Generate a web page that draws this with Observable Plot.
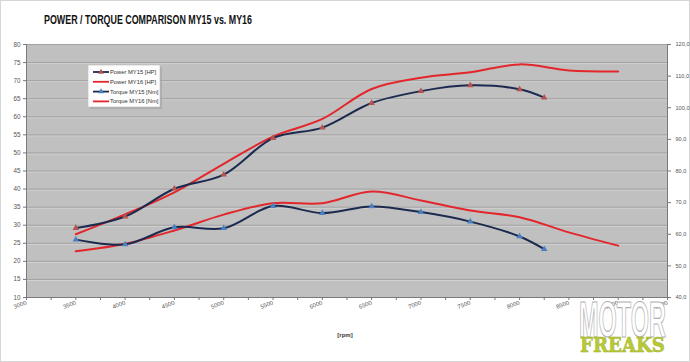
<!DOCTYPE html>
<html>
<head>
<meta charset="utf-8">
<script src="https://cdn.jsdelivr.net/npm/d3@7"></script>
<script src="https://cdn.jsdelivr.net/npm/@observablehq/plot@0.6"></script>
<style>
  html, body { margin: 0; padding: 0; background: #fff; }
  #chart { width: 690px; height: 362px; position: relative; }
  svg { font-family: "Liberation Sans", Arial, sans-serif; }
</style>
</head>
<body>
<div id="chart"></div>
<script>
// ---- data ----
const title = "POWER / TORQUE COMPARISON MY15 vs. MY16";
const xLabel = "[rpm]";
const seriesNames = ["Power MY15 [HP]", "Power MY16 [HP]", "Torque MY15 [Nm]", "Torque MY16 [Nm]"];

const rpmMY15 = [3500, 4000, 4500, 5000, 5500, 6000, 6500, 7000, 7500, 8000, 8250];
const powerMY15 = [29.2, 32.4, 40.1, 44.0, 54.1, 57.0, 63.8, 67.1, 68.7, 67.6, 65.3];
const torqueMY15 = [58.3, 56.8, 62.2, 61.9, 68.9, 66.7, 68.8, 67.0, 64.0, 59.3, 55.3];

const rpmMY16 = [3500, 4000, 4500, 5000, 5500, 6000, 6500, 7000, 7500, 8000, 8500, 9000];
const powerMY16 = [27.5, 33.0, 39.1, 47.0, 54.5, 59.4, 67.7, 70.8, 72.3, 74.5, 72.8, 72.5];
const torqueMY16 = [54.6, 57.0, 61.2, 66.2, 69.8, 69.8, 73.5, 70.7, 67.5, 65.4, 60.6, 56.4];

const hpTicks = [10, 15, 20, 25, 30, 35, 40, 45, 50, 55, 60, 65, 70, 75, 80];
const nmTicks = [40, 50, 60, 70, 80, 90, 100, 110, 120];
const rpmTicks = [3000, 3500, 4000, 4500, 5000, 5500, 6000, 6500, 7000, 7500, 8000, 8500, 9000, 9500];
const rpmMinorTicks = d3.range(3000, 9501, 250);

// ---- torque (right axis 40..120) mapped onto the HP axis (10..80)
const hpDomain = [10, 80];
const nmDomain = [40, 120];
const nmToHp = nm => hpDomain[0] + (nm - nmDomain[0]) * (hpDomain[1] - hpDomain[0]) / (nmDomain[1] - nmDomain[0]);
const hpToNm = hp => nmDomain[0] + (hp - hpDomain[0]) * (nmDomain[1] - nmDomain[0]) / (hpDomain[1] - hpDomain[0]);

const p15 = rpmMY15.map((r, i) => ({rpm: r, v: powerMY15[i]}));
const p16 = rpmMY16.map((r, i) => ({rpm: r, v: powerMY16[i]}));
const t15 = rpmMY15.map((r, i) => ({rpm: r, v: nmToHp(torqueMY15[i])}));
const t16 = rpmMY16.map((r, i) => ({rpm: r, v: nmToHp(torqueMY16[i])}));

const navy = "#1b2a4e";
const red = "#e3262b";
const triRed = "#b45350";
const triBlue = "#4a7fc1";
const tickColor = "#555555";

const chart = Plot.plot({
  width: 690,
  height: 362,
  marginLeft: 26,
  marginRight: 23,
  marginTop: 44,
  marginBottom: 65,
  style: {background: "transparent", color: tickColor, fontFamily: "'Liberation Sans', Arial, sans-serif"},
  x: {domain: [3000, 9500]},
  y: {domain: hpDomain},
  marks: [
    Plot.frame({fill: "#c0c0c0", stroke: null}),
    Plot.ruleY(hpTicks.slice(1, -1), {stroke: "#d4d4d4", dy: 1}),
    Plot.ruleY(hpTicks.slice(1), {stroke: "#a2a2a2"}),
    Plot.ruleX([3000], {stroke: "#7a7a7a"}),
    Plot.ruleX([9500], {stroke: "#7a7a7a"}),
    Plot.ruleY([10], {stroke: "#7a7a7a"}),
    Plot.axisY({anchor: "left", ticks: hpTicks, tickSize: 3, tickPadding: 3, fontSize: 6.3, fill: tickColor, stroke: "#777", label: null}),
    Plot.axisY({anchor: "right", ticks: nmTicks.map(nmToHp), tickSize: 3, tickPadding: 5, fontSize: 5.6, fill: tickColor, stroke: "#777", label: null,
      tickFormat: d => (Math.round(hpToNm(d) * 10) / 10).toFixed(1).replace(".", ",")}),
    Plot.axisX({ticks: rpmMinorTicks, tickSize: 3, tickPadding: 2, tickRotate: -20, fontSize: 6, fill: tickColor, stroke: "#777", label: null,
      tickFormat: d => rpmTicks.includes(d) ? String(d) : ""}),
    Plot.line(t16, {x: "rpm", y: "v", stroke: red, strokeWidth: 2, curve: "catmull-rom"}),
    Plot.line(t15, {x: "rpm", y: "v", stroke: navy, strokeWidth: 2, curve: "catmull-rom"}),
    Plot.dot(t15, {x: "rpm", y: "v", symbol: "triangle", r: 2.4, fill: triBlue, stroke: null}),
    Plot.line(p16, {x: "rpm", y: "v", stroke: red, strokeWidth: 2, curve: "catmull-rom"}),
    Plot.line(p15, {x: "rpm", y: "v", stroke: navy, strokeWidth: 2, curve: "catmull-rom"}),
    Plot.dot(p15, {x: "rpm", y: "v", symbol: "triangle", r: 2.4, fill: triRed, stroke: null})
  ]
});

document.getElementById("chart").appendChild(chart);
const svg = d3.select(chart);

// outer light border
svg.insert("rect", ":first-child")
  .attr("x", 0.5).attr("y", 0.5).attr("width", 689).attr("height", 361)
  .attr("fill", "#fff").attr("stroke", "#d6d6d6");

// title
svg.append("text")
  .attr("x", 44).attr("y", 24).attr("text-anchor", "start")
  .attr("font-size", 12.5).attr("font-weight", "bold").attr("fill", "#111")
  .attr("textLength", 208).attr("lengthAdjust", "spacingAndGlyphs")
  .text(title);

// x axis label
svg.append("text")
  .attr("x", 345).attr("y", 337).attr("text-anchor", "middle")
  .attr("font-size", 6).attr("font-weight", "bold").attr("fill", "#333")
  .text(xLabel);

// legend
const lg = svg.append("g");
lg.append("rect").attr("x", 90).attr("y", 67).attr("width", 72).attr("height", 42).attr("fill", "#9a9a9a").attr("opacity", 0.5);
lg.append("rect").attr("x", 88).attr("y", 65).attr("width", 72).attr("height", 42).attr("fill", "#fdfdfd").attr("stroke", "#bdbdbd").attr("stroke-width", 0.6);
const legendStyle = [
  {stroke: navy, marker: triRed},
  {stroke: red, marker: null},
  {stroke: navy, marker: triBlue},
  {stroke: red, marker: null}
];
seriesNames.forEach((name, i) => {
  const y = 72 + i * 9.8;
  lg.append("line").attr("x1", 93).attr("x2", 109).attr("y1", y).attr("y2", y)
    .attr("stroke", legendStyle[i].stroke).attr("stroke-width", 1.8);
  if (legendStyle[i].marker) {
    lg.append("path").attr("d", d3.symbol(d3.symbolTriangle, 14)()).attr("transform", `translate(101,${y})`)
      .attr("fill", legendStyle[i].marker);
  }
  lg.append("text").attr("x", 110).attr("y", y + 2).attr("text-anchor", "start")
    .attr("font-size", 5.8).attr("fill", "#333")
    .text(name);
});

// logo
const logo = svg.append("g");
logo.append("text").attr("x", 579).attr("y", 337).attr("text-anchor", "start")
  .attr("font-size", 50).attr("font-weight", "bold")
  .attr("font-family", "'Liberation Sans Narrow', 'Liberation Sans', Arial, sans-serif")
  .attr("fill", "#ffffff").attr("stroke", "#b0b0b0").attr("stroke-width", 1.2)
  .attr("textLength", 87).attr("lengthAdjust", "spacingAndGlyphs")
  .text("MOTOR");
logo.append("text").attr("x", 580).attr("y", 352).attr("text-anchor", "start")
  .attr("font-size", 21).attr("font-weight", "bold").attr("font-family", "'DejaVu Serif', 'Liberation Serif', serif")
  .attr("fill", "#b7ca35").attr("stroke", "#9fb02a").attr("stroke-width", 0.5)
  .attr("textLength", 85).attr("lengthAdjust", "spacingAndGlyphs")
  .text("FREAKS");
</script>
</body>
</html>
